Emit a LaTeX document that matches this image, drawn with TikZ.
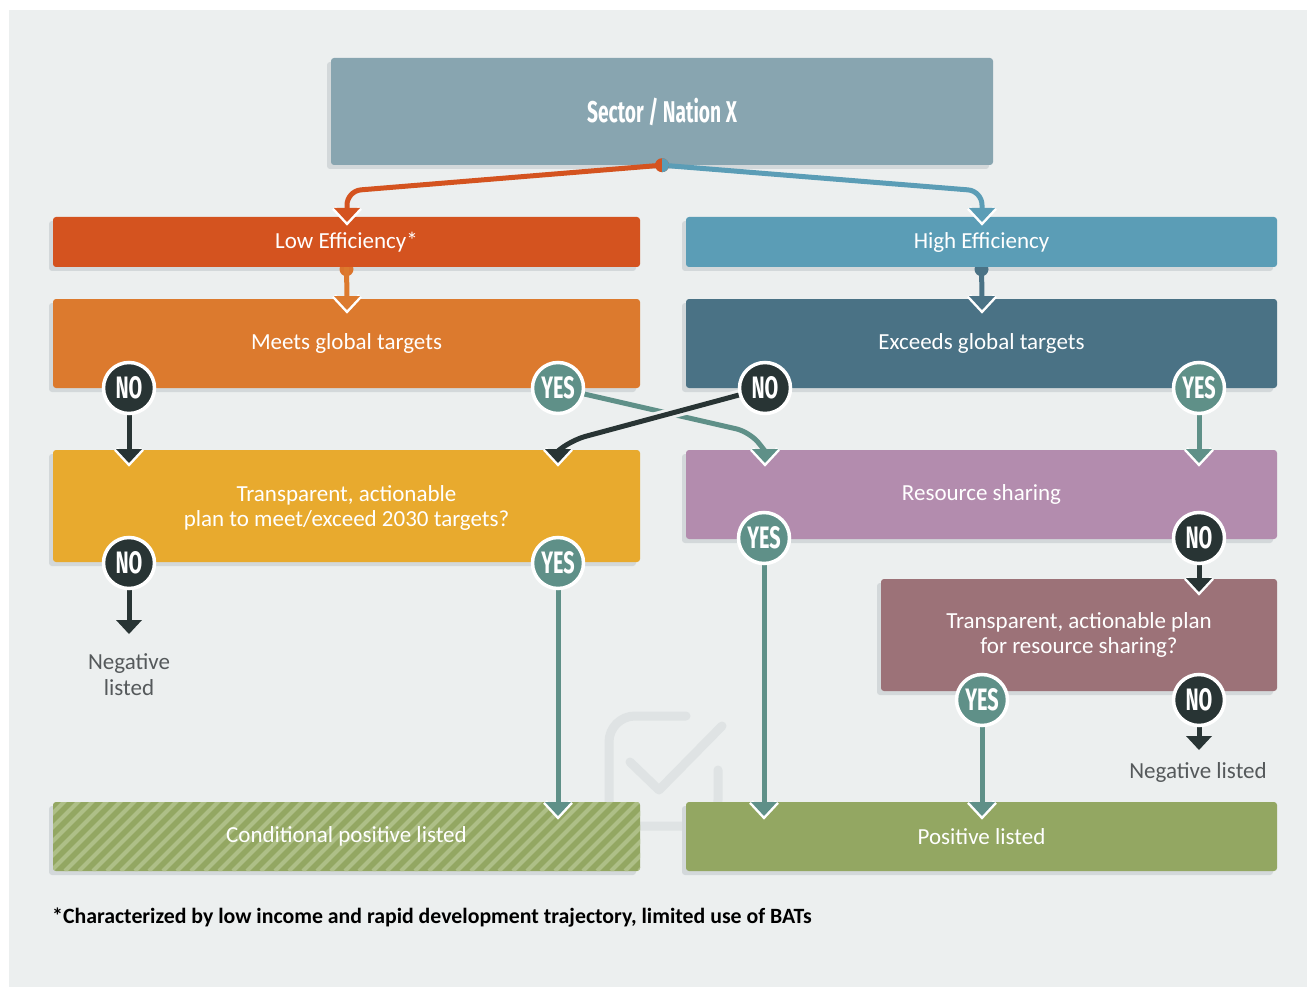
\documentclass[tikz,border=0pt]{standalone}
\usepackage{fontspec}
\setmainfont{Carlito}
\newfontfamily\condfont{Fira Sans}[FakeStretch=0.64]
\usetikzlibrary{shadows,backgrounds,calc}
\definecolor{panelC}{HTML}{ECEFEF}
\definecolor{sectorC}{HTML}{88A5B0}
\definecolor{lowC}{HTML}{D4531F}
\definecolor{highC}{HTML}{5B9DB6}
\definecolor{meetsC}{HTML}{DC7A2E}
\definecolor{excC}{HTML}{4A7285}
\definecolor{yelC}{HTML}{E8AA2E}
\definecolor{resC}{HTML}{B38CAE}
\definecolor{mauveC}{HTML}{9C7278}
\definecolor{greenC}{HTML}{93A762}
\definecolor{stripeC}{HTML}{AEBF87}
\definecolor{shadowC}{HTML}{D3D8DA}
\definecolor{noC}{HTML}{283434}
\definecolor{yesC}{HTML}{5F9088}
\definecolor{grayT}{HTML}{55595B}
\definecolor{wmC}{HTML}{DFE3E4}
\tikzset{
  box/.style={rectangle, rounded corners=3pt, inner sep=0pt, text=white, align=center,
    font=\fontsize{23}{25}\selectfont,
    drop shadow={shadow xshift=-4pt, shadow yshift=-4pt, opacity=1, fill=shadowC}},
  badge/.style={circle, minimum size=51pt, inner sep=0pt, draw=white, line width=3.5pt,
    text=white, font=\condfont\bfseries\fontsize{31}{31}\selectfont},
  nobadge/.style={badge, fill=noC},
  yesbadge/.style={badge, fill=yesC},
  conn/.style={line width=5pt, rounded corners=14pt},
  tipw/.pic={\draw[white,line width=5pt,line join=miter] (-13,-14)--(0,0)--(13,-14);
             \fill[pic actions] (-13,-14)--(0,0)--(13,-14)--cycle;},
  tipp/.pic={\fill[pic actions] (-13,-14)--(0,0)--(13,-14)--cycle;},
  stripes/.style={path picture={\foreach \i in {-100,-86,...,700}
     \draw[stripeC,line width=4pt] ([xshift=\i pt]path picture bounding box.south west) -- ++(90,-90);}},
  neg/.style={text=grayT, font=\fontsize{23}{26}\selectfont, align=center}
}
\begin{document}
\begin{tikzpicture}[x=1pt,y=-1pt]
\useasboundingbox (0,0) rectangle (1307,987);
\fill[white] (0,0) rectangle (1307,987);
\fill[panelC] (9,10) rectangle (1307,987);
% watermark
\draw[wmC, line width=9pt, line cap=round, rounded corners=26pt] (686,716) -- (609,716) -- (609,826) -- (718,826) -- (718,770);
\draw[wmC, line width=9pt, line cap=round, line join=round] (630,762) -- (659,790) -- (722,726);

% boxes
\node[box, fill=sectorC, minimum width=662pt, minimum height=107pt, font=\condfont\bfseries\fontsize{30}{31}\selectfont] (sector) at (662,111.5) {Sector / Nation X};
\node[box, fill=lowC, minimum width=587pt, minimum height=50pt] (low) at (346.5,242) {Low Efficiency*};
\node[box, fill=highC, minimum width=591pt, minimum height=50pt] (high) at (981.5,242) {High Efficiency};
\node[box, fill=meetsC, minimum width=587pt, minimum height=89pt] (meets) at (346.5,343.5) {Meets global targets};
\node[box, fill=excC, minimum width=591pt, minimum height=89pt] (exc) at (981.5,343.5) {Exceeds global targets};
\node[box, fill=yelC, minimum width=587pt, minimum height=112pt, text depth=0pt] (yel) at (346.5,506) {Transparent, actionable\\plan to meet/exceed 2030 targets?};
\node[box, fill=resC, minimum width=591pt, minimum height=89pt] (res) at (981.5,494.5) {Resource sharing};
\node[box, fill=mauveC, minimum width=396pt, minimum height=112pt] (mauve) at (1079,635) {Transparent, actionable plan\\for resource sharing?};
\node[box, fill=greenC, stripes, minimum width=587pt, minimum height=69pt] (cond) at (346.5,836.5) {Conditional positive listed};
\node[box, fill=greenC, minimum width=591pt, minimum height=69pt] (pos) at (981.5,836.5) {Positive listed};

% half dots under efficiency boxes
\begin{scope}
\clip (low.south west) rectangle ([yshift=-20pt]high.south east);
\fill[meetsC!85!lowC] ([yshift=-2pt]low.south) circle[radius=7];
\fill[excC] ([yshift=-2pt]high.south) circle[radius=7];
\end{scope}

% badges (positions)
\coordinate (meetsnoP) at (129,388);
\coordinate (meetsyesP) at (558,388);
\coordinate (excnoP) at (765,388);
\coordinate (excyesP) at (1199,388);
\coordinate (yelnoP) at (129,563);
\coordinate (yelyesP) at (558,563);
\coordinate (rsyesP) at (764,538);
\coordinate (rsnoP) at (1199,538);
\coordinate (myesP) at (982,700);
\coordinate (mnoP) at (1199,700);

% tip coordinates
\coordinate (lowin) at (347,222);
\coordinate (highin) at (982,222);
\coordinate (meetsin) at (347,310);
\coordinate (excin) at (982,310);
\coordinate (yelinL) at (129,463);
\coordinate (yelinR) at (558,463);
\coordinate (resinL) at (765,463);
\coordinate (resinR) at (1199,463);
\coordinate (negL) at (129,634);
\coordinate (condin) at (558,816);
\coordinate (posinL) at (764,816);
\coordinate (posinR) at (982,816);
\coordinate (mauvein) at (1199,592);
\coordinate (negR) at (1199,750);

% connectors
\draw[conn, lowC] (sector.south) -- (347,191) -- ($(lowin)+(0,-12)$);
\draw[conn, highC] (sector.south) -- (982,191) -- ($(highin)+(0,-12)$);
\draw[conn, meetsC] (low.south) -- ($(meetsin)+(0,-12)$);
\draw[conn, excC] (high.south) -- ($(excin)+(0,-12)$);
\draw[conn, noC] (meetsnoP) -- ($(yelinL)+(0,-12)$);
\draw[conn, yesC] (meetsyesP) -- (750,432) -- ($(resinL)+(0,-12)$);
\draw[conn, panelC, line width=11pt] (excnoP) -- (572,440);
\draw[conn, noC] (excnoP) -- (572,440) -- ($(yelinR)+(0,-12)$);
\draw[conn, yesC] (excyesP) -- ($(resinR)+(0,-12)$);
\draw[conn, noC] (yelnoP) -- ($(negL)+(0,-12)$);
\draw[conn, yesC] (yelyesP) -- ($(condin)+(0,-12)$);
\draw[conn, yesC] (rsyesP) -- ($(posinL)+(0,-12)$);
\draw[conn, noC] (rsnoP) -- ($(mauvein)+(0,-12)$);
\draw[conn, yesC] (myesP) -- ($(posinR)+(0,-12)$);
\draw[conn, noC] (mnoP) -- ($(negR)+(0,-12)$);

% tips
\pic[fill=lowC] at (lowin) {tipw};
\pic[fill=highC] at (highin) {tipw};
\pic[fill=meetsC] at (meetsin) {tipw};
\pic[fill=excC] at (excin) {tipw};
\pic[fill=noC] at (yelinL) {tipw};
\pic[fill=noC] at (yelinR) {tipw};
\pic[fill=yesC] at (resinL) {tipw};
\pic[fill=yesC] at (resinR) {tipw};
\pic[fill=noC] at (negL) {tipp};
\pic[fill=yesC] at (condin) {tipw};
\pic[fill=yesC] at (posinL) {tipw};
\pic[fill=yesC] at (posinR) {tipw};
\pic[fill=noC] at (mauvein) {tipw};
\pic[fill=noC] at (negR) {tipp};

% split dot at top
\fill[lowC] (sector.south) circle[radius=7];
\begin{scope}
\clip (sector.south) ++(0,-10) rectangle ++(10,20);
\fill[highC] (sector.south) circle[radius=7];
\end{scope}

% badges
\node[nobadge] (meetsno) at (meetsnoP) {NO};
\node[yesbadge] (meetsyes) at (meetsyesP) {YES};
\node[nobadge] (excno) at (excnoP) {NO};
\node[yesbadge] (excyes) at (excyesP) {YES};
\node[nobadge] (yelno) at (yelnoP) {NO};
\node[yesbadge] (yelyes) at (yelyesP) {YES};
\node[yesbadge] (rsyes) at (rsyesP) {YES};
\node[nobadge] (rsno) at (rsnoP) {NO};
\node[yesbadge] (myes) at (myesP) {YES};
\node[nobadge] (mno) at (mnoP) {NO};

% outputs
\node[neg] (negLt) at (129,675) {Negative\\listed};
\node[neg] (negRt) at (1198,772) {Negative listed};

% footnote
\node[anchor=base west, inner sep=0pt, text=black, font=\bfseries\fontsize{21.8}{24}\selectfont] (foot) at (52,923) {*Characterized by low income and rapid development trajectory, limited use of BATs};
\end{tikzpicture}
\end{document}
